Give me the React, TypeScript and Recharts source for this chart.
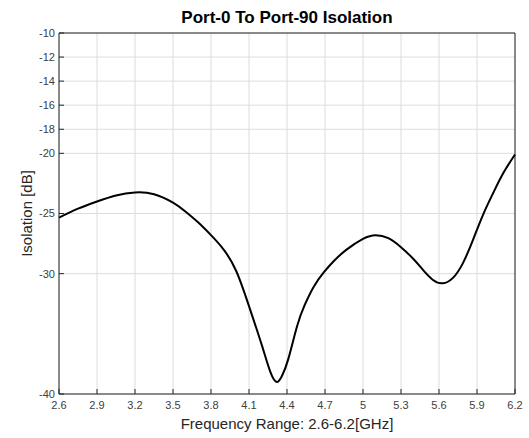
import { LineChart, Line, XAxis, YAxis, CartesianGrid, ReferenceLine } from "recharts";

const freqs = [2.6, 2.75, 2.9, 3.05, 3.2, 3.35, 3.5, 3.6, 3.7, 3.8, 3.9, 4.0, 4.1, 4.2, 4.27, 4.32, 4.36, 4.41, 4.48, 4.54, 4.61, 4.69, 4.77, 4.87, 5.0, 5.1, 5.2, 5.3, 5.4, 5.47, 5.55, 5.63, 5.71, 5.79, 5.87, 5.95, 6.03, 6.11, 6.2];
const isolation = [-25.35, -24.6, -24.0, -23.5, -23.25, -23.4, -24.1, -24.85, -25.75, -26.8, -28.0, -29.8, -32.7, -35.9, -38.2, -39.0, -38.5, -37.1, -34.35, -32.6, -31.1, -29.9, -28.95, -28.0, -27.1, -26.8, -27.05, -27.8, -28.8, -29.65, -30.5, -30.8, -30.35, -29.1, -27.15, -25.05, -23.25, -21.6, -20.1];

const xTicks = [2.6, 2.9, 3.2, 3.5, 3.8, 4.1, 4.4, 4.7, 5, 5.3, 5.6, 5.9, 6.2];
const yTicks = [-40, -30, -25, -20, -18, -16, -14, -12, -10];

const data = freqs.map((f, i) => ({ f, v: isolation[i] }));

const font = "'Liberation Sans', Arial, sans-serif";
const axisColor = "#262626";
const tickStyle = { fontSize: 11, fill: "#404040", fontFamily: font };

export default function App() {
  return (
    <div style={{ position: "fixed", left: 0, top: 0, width: 529, height: 438, background: "#fff" }}>
      <div
        style={{
          position: "absolute",
          left: 59,
          width: 456,
          top: 8,
          textAlign: "center",
          fontFamily: font,
          fontWeight: "bold",
          fontSize: 17,
          lineHeight: "20px",
          color: "#000",
        }}
      >
        Port-0 To Port-90 Isolation
      </div>
      <LineChart width={529} height={438} data={data} margin={{ top: 33, right: 14, bottom: 0, left: 0 }}>
        <CartesianGrid stroke="#dcdcdc" strokeWidth={1} />
        <XAxis
          dataKey="f"
          type="number"
          domain={[2.6, 6.2]}
          ticks={xTicks}
          height={44}
          stroke={axisColor}
          tickSize={-5}
          tickMargin={12}
          tick={tickStyle}
          label={{ value: "Frequency Range: 2.6-6.2[GHz]", position: "insideBottom", offset: 9, style: { fontSize: 15, fill: "#262626", fontFamily: font } }}
        />
        <YAxis
          type="number"
          domain={[-40, -10]}
          ticks={yTicks}
          width={59}
          stroke={axisColor}
          tickSize={-5}
          tickMargin={9}
          tick={tickStyle}
          label={{ value: "Isolation [dB]", angle: -90, position: "insideLeft", offset: 27, style: { fontSize: 15, fill: "#262626", fontFamily: font, textAnchor: "middle" } }}
        />
        <ReferenceLine y={-10} stroke={axisColor} strokeWidth={1} ifOverflow="extendDomain" />
        <ReferenceLine x={6.2} stroke={axisColor} strokeWidth={1} ifOverflow="extendDomain" />
        <Line
          dataKey="v"
          type="natural"
          stroke="#000"
          strokeWidth={2}
          dot={false}
          isAnimationActive={false}
        />
      </LineChart>
    </div>
  );
}
